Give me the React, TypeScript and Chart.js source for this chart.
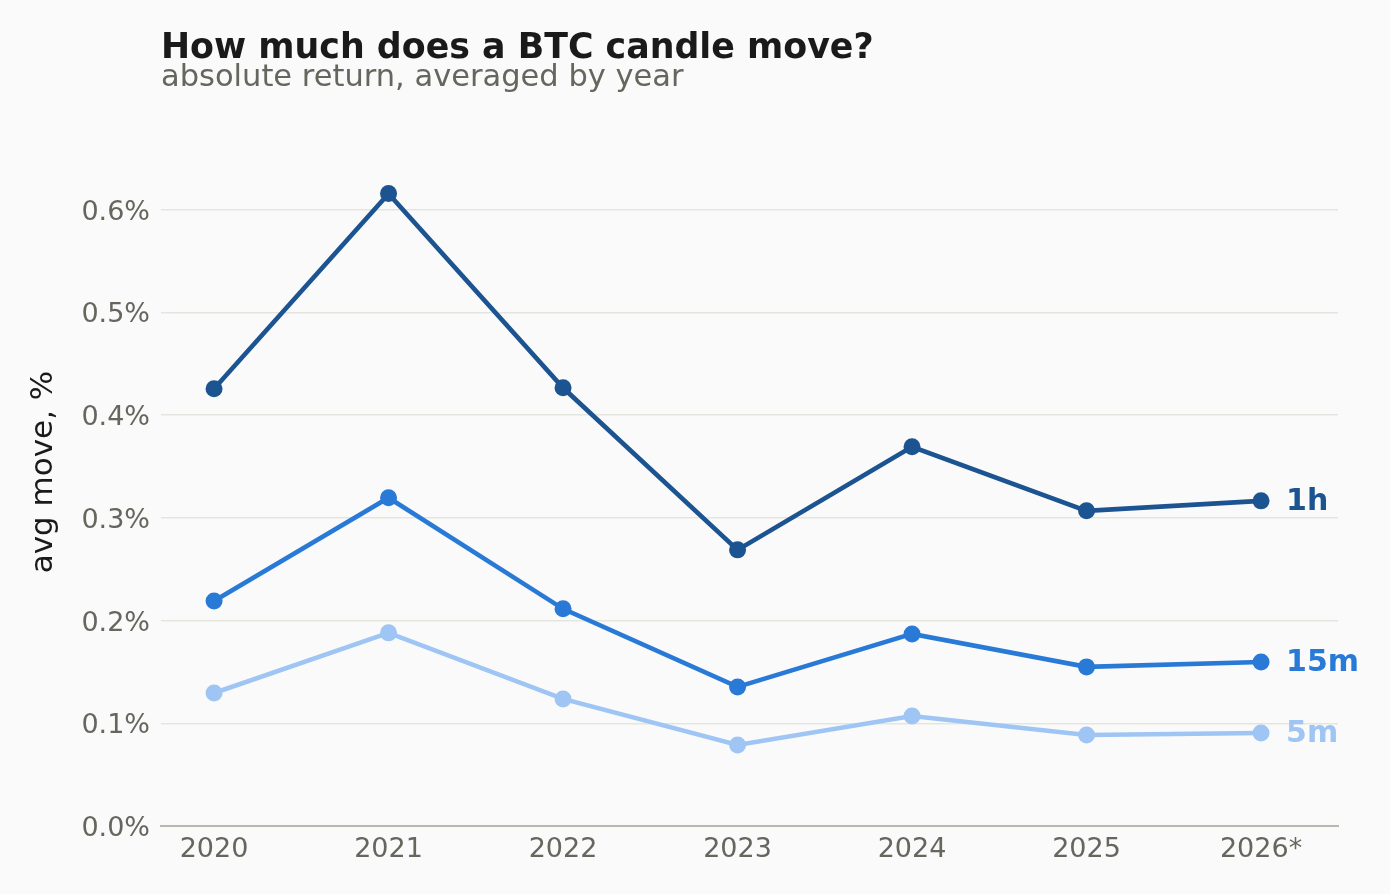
import React, { useEffect, useRef } from "react";
import { Chart, registerables } from "chart.js";

Chart.register(...registerables);

const categories = ["2020", "2021", "2022", "2023", "2024", "2025", "2026*"];
const series1h = [0.4256, 0.6156, 0.4266, 0.2688, 0.3691, 0.3068, 0.3165];
const series15m = [0.2191, 0.3195, 0.2114, 0.1354, 0.187, 0.1549, 0.1597];
const series5m = [0.1295, 0.188, 0.1237, 0.0789, 0.1071, 0.0886, 0.0906];
const yTicks = [0, 0.1, 0.2, 0.3, 0.4, 0.5, 0.6];

const TITLE = "How much does a BTC candle move?";
const SUBTITLE = "absolute return, averaged by year";
const Y_LABEL = "avg move, %";
const FONT = "'DejaVu Sans', sans-serif";

const C1H = "#1c5391";
const C15 = "#2979d6";
const C5 = "#9ec5f4";

export default function App() {
  const ref = useRef<HTMLCanvasElement | null>(null);

  useEffect(() => {
    document.body.style.margin = "0";
    document.body.style.background = "#fafafa";
    const canvas = ref.current;
    if (!canvas) return;

    const mk = (label: string, vals: number[], color: string) => ({
      label,
      data: vals.map((v, i) => ({ x: i, y: v })),
      borderColor: color,
      backgroundColor: color,
      pointBackgroundColor: color,
      pointBorderWidth: 0,
      pointRadius: 8.5,
      borderWidth: 4.6,
      tension: 0,
    });

    const bgPlugin = {
      id: "bg",
      beforeDraw(chart: any) {
        const { ctx } = chart;
        ctx.save();
        ctx.fillStyle = "#fafafa";
        ctx.fillRect(0, 0, chart.width, chart.height);
        ctx.restore();
      },
    };

    const textPlugin = {
      id: "texts",
      afterDatasetsDraw(chart: any) {
        const { ctx, chartArea } = chart;
        ctx.save();
        chart.data.datasets.forEach((ds: any, i: number) => {
          const meta = chart.getDatasetMeta(i);
          const last = meta.data[meta.data.length - 1];
          ctx.font = `bold 30px ${FONT}`;
          ctx.fillStyle = ds.borderColor;
          ctx.textAlign = "left";
          ctx.textBaseline = "middle";
          ctx.fillText(ds.label, last.x + 25, last.y + 1);
        });
        // title
        ctx.textAlign = "left";
        ctx.textBaseline = "middle";
        ctx.fillStyle = "#1a1a1a";
        ctx.font = `bold 34.8px ${FONT}`;
        ctx.fillText(TITLE, chartArea.left, 49);
        ctx.fillStyle = "#66665f";
        ctx.font = `30.5px ${FONT}`;
        ctx.fillText(SUBTITLE, chartArea.left, 78);
        // y label
        ctx.save();
        ctx.translate(44, 472);
        ctx.rotate(-Math.PI / 2);
        ctx.textAlign = "center";
        ctx.fillStyle = "#1a1a1a";
        ctx.font = `31px ${FONT}`;
        ctx.fillText(Y_LABEL, 0, 0);
        ctx.restore();
        ctx.restore();
      },
    };

    const chart = new Chart(canvas, {
      type: "line",
      data: {
        datasets: [mk("1h", series1h, C1H), mk("15m", series15m, C15), mk("5m", series5m, C5)],
      },
      options: {
        animation: false,
        responsive: false,
        maintainAspectRatio: false,
        layout: { padding: { top: 148, right: 52, left: 0, bottom: 0 } },
        plugins: { legend: { display: false }, tooltip: { enabled: false }, title: { display: false } },
        scales: {
          x: {
            type: "linear",
            min: -0.304,
            max: 6.441,
            afterFit(scale: any) {
              scale.height = 68;
            },
            afterBuildTicks(scale: any) {
              scale.ticks = categories.map((_, i) => ({ value: i }));
            },
            ticks: {
              callback: (v: any) => categories[v as number] ?? "",
              color: "#66665f",
              font: { family: FONT, size: 27 },
              padding: 8,
              maxRotation: 0,
              autoSkip: false,
            },
            grid: { display: false, drawTicks: false },
            border: { display: true, color: "#b8b8b0", width: 2 },
          },
          y: {
            type: "linear",
            min: 0,
            max: 0.66,
            afterFit(scale: any) {
              scale.width = 161;
            },
            afterBuildTicks(scale: any) {
              scale.ticks = yTicks.map((v) => ({ value: v }));
            },
            ticks: {
              callback: (v: any) => `${Number(v).toFixed(1)}%`,
              color: "#66665f",
              font: { family: FONT, size: 27 },
              padding: 11,
              labelOffset: 3,
            },
            grid: { color: "#e5e5e0", lineWidth: 1.5, drawTicks: false },
            border: { display: false },
          },
        },
      },
      plugins: [bgPlugin, textPlugin],
    });

    return () => chart.destroy();
  }, []);

  return <canvas ref={ref} width={1390} height={894} style={{ display: "block", width: 1390, height: 894 }} />;
}
